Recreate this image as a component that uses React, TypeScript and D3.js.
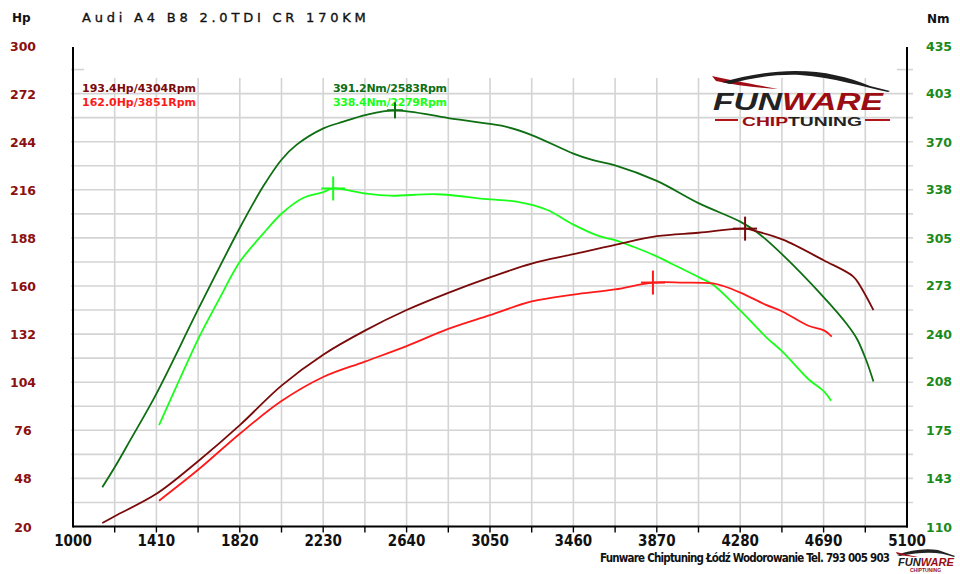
import React, { useEffect, useRef } from 'react';
import * as d3 from 'd3';

// rpm / value pairs
const tunedPowerRpm = [1144, 1205, 1410, 1615, 1820, 2025, 2230, 2435, 2640, 2845, 3050, 3255, 3460, 3665, 3870, 4075, 4304, 4361, 4490, 4690, 4836, 4870, 4935];
const tunedPowerHp = [22, 26, 39, 58, 79, 102, 120, 134, 146, 156, 165, 173, 178.5, 184, 189, 191, 193.4, 191.8, 187, 175, 165.5, 160, 146];

const stockPowerRpm = [1423, 1615, 1820, 2025, 2230, 2435, 2640, 2845, 3050, 3255, 3460, 3665, 3851, 4000, 4145, 4197, 4284, 4407, 4490, 4612, 4694, 4730];
const stockPowerHp = [35, 53, 74, 93, 107, 116, 125, 135, 143, 151, 155, 158, 162, 162, 161.5, 160, 156, 149, 145, 137, 134, 130.5];

const tunedTorqueRpm = [1144, 1205, 1280, 1411, 1620, 1821, 1936, 2026, 2100, 2231, 2329, 2436, 2583, 2845, 3050, 3132, 3255, 3460, 3557, 3665, 3870, 4075, 4280, 4361, 4485, 4690, 4803, 4853, 4899, 4935];
const tunedTorqueNm = [136.5, 150, 168, 200, 258, 312, 340, 358, 368, 379, 383.5, 388, 391.2, 386, 382, 380, 374.5, 362, 357.5, 354, 343.5, 328.5, 316, 309, 294, 265, 247, 237, 222.5, 208];

const stockTorqueRpm = [1423, 1526, 1620, 1720, 1821, 1936, 2026, 2131, 2231, 2279, 2436, 2559, 2789, 3050, 3181, 3329, 3460, 3591, 3665, 3755, 3870, 3951, 4083, 4145, 4280, 4407, 4489, 4612, 4694, 4727];
const stockTorqueNm = [178.5, 210, 238, 264, 289, 308, 321.5, 332, 336, 338.4, 335, 333.5, 334.5, 331, 329.5, 324, 314, 306, 303.5, 299, 292.5, 287, 278, 273.5, 256, 238, 228, 210, 201, 195];

const rpmLabels = [1000, 1410, 1820, 2230, 2640, 3050, 3460, 3870, 4280, 4690, 5100];
const hpLabels = [20, 48, 76, 104, 132, 160, 188, 216, 244, 272, 300];
const nmLabels = [110, 143, 175, 208, 240, 273, 305, 338, 370, 403, 435];

const peakLabels = ['193.4Hp/4304Rpm', '162.0Hp/3851Rpm', '391.2Nm/2583Rpm', '338.4Nm/2279Rpm'];

const DARK_RED = '#7a0a0a';
const RED = '#ff1a1a';
const DARK_GREEN = '#0d6e12';
const GREEN = '#1aff1a';

const App: React.FC = () => {
  const ref = useRef<SVGSVGElement | null>(null);

  useEffect(() => {
    if (!ref.current) return;
    const svg = d3.select(ref.current);
    svg.selectAll('*').remove();

    const left = 73, right = 907, top = 45.5, bottom = 526.5;
    const x = d3.scaleLinear().domain([1000, 5100]).range([left, right]);
    const yHp = d3.scaleLinear().domain([20, 300]).range([bottom, top]);
    const yNm = d3.scaleLinear().domain([110, 435]).range([bottom, top]);

    svg.append('rect').attr('width', 960).attr('height', 574).attr('fill', '#fff');

    // grid
    const grid = svg.append('g').attr('stroke', '#d4d4d4').attr('stroke-width', 1.6);
    const vTicks = d3.range(1205, 5100, 205);
    grid.selectAll('.v').data(vTicks).enter().append('line')
      .attr('x1', (d) => x(d)).attr('x2', (d) => x(d))
      .attr('y1', 78).attr('y2', bottom);
    const hTicks = d3.range(34, 273, 14);
    grid.selectAll('.h').data(hTicks).enter().append('line')
      .attr('x1', left - 2).attr('x2', right + 6)
      .attr('y1', (d) => yHp(d)).attr('y2', (d) => yHp(d));
    // short ticks at 286
    grid.append('line').attr('x1', left - 2).attr('x2', left + 11).attr('y1', yHp(286)).attr('y2', yHp(286));
    grid.append('line').attr('x1', right - 10).attr('x2', right + 6).attr('y1', yHp(286)).attr('y2', yHp(286));

    // axes frame
    const axis = svg.append('g').attr('stroke', '#000').attr('stroke-width', 2);
    axis.append('line').attr('x1', left).attr('x2', left).attr('y1', 47).attr('y2', bottom + 1);
    axis.append('line').attr('x1', right).attr('x2', right).attr('y1', 47).attr('y2', bottom + 1);
    axis.append('line').attr('x1', left).attr('x2', right + 1).attr('y1', bottom).attr('y2', bottom);
    axis.selectAll('.t').data(vTicks).enter().append('line')
      .attr('stroke-width', 1.4)
      .attr('x1', (d) => x(d)).attr('x2', (d) => x(d))
      .attr('y1', bottom).attr('y2', bottom + 6);

    // tick labels
    svg.append('g').selectAll('text').data(rpmLabels).enter().append('text')
      .attr('x', (d) => x(d)).attr('y', 546)
      .attr('text-anchor', 'middle')
      .attr('font-family', '"Liberation Sans Narrow", "DejaVu Sans Condensed", sans-serif')
      .attr('font-weight', 'bold').attr('font-size', 15).attr('fill', '#111')
      .text((d) => d);
    svg.append('g').selectAll('text').data(hpLabels).enter().append('text')
      .attr('x', 23).attr('y', (d) => yHp(d) + 5)
      .attr('text-anchor', 'middle')
      .attr('font-family', 'Tahoma, "DejaVu Sans", sans-serif')
      .attr('font-weight', 'bold').attr('font-size', 12.5).attr('fill', '#8b1010')
      .text((d) => d);
    svg.append('g').selectAll('text').data(nmLabels).enter().append('text')
      .attr('x', 939).attr('y', (d) => yNm(d) + 5)
      .attr('text-anchor', 'middle')
      .attr('font-family', 'Tahoma, "DejaVu Sans", sans-serif')
      .attr('font-weight', 'bold').attr('font-size', 12.5).attr('fill', '#1a8a1a')
      .text((d) => d);

    // headers
    svg.append('text').attr('x', 12).attr('y', 22)
      .attr('font-family', '"DejaVu Sans", sans-serif').attr('font-weight', 'bold')
      .attr('font-size', 12).attr('fill', '#111').text('Hp');
    svg.append('text').attr('x', 927).attr('y', 23)
      .attr('font-family', '"DejaVu Sans", sans-serif').attr('font-weight', 'bold')
      .attr('font-size', 12).attr('fill', '#111').text('Nm');
    svg.append('text').attr('x', 82).attr('y', 22)
      .attr('font-family', '"DejaVu Sans", sans-serif')
      .attr('font-size', 13).attr('letter-spacing', 2.2).attr('fill', '#111')
      .attr('stroke', '#111').attr('stroke-width', 0.35)
      .attr('textLength', 286)
      .text('Audi A4 B8 2.0TDI CR 170KM');

    // peak legend
    const legend = [
      { x: 82, y: 92, c: DARK_RED },
      { x: 82, y: 106, c: RED },
      { x: 333, y: 92, c: DARK_GREEN },
      { x: 333, y: 106, c: GREEN },
    ];
    svg.append('g').selectAll('text').data(legend).enter().append('text')
      .attr('x', (d) => d.x).attr('y', (d) => d.y)
      .attr('font-family', 'Tahoma, "DejaVu Sans", sans-serif')
      .attr('font-weight', 'bold').attr('font-size', 11).attr('fill', (d) => d.c)
      .attr('textLength', 114)
      .text((_, i) => peakLabels[i]);

    // curves
    const series = [
      { rpm: stockTorqueRpm, v: stockTorqueNm, y: yNm, c: GREEN },
      { rpm: tunedTorqueRpm, v: tunedTorqueNm, y: yNm, c: DARK_GREEN },
      { rpm: stockPowerRpm, v: stockPowerHp, y: yHp, c: RED },
      { rpm: tunedPowerRpm, v: tunedPowerHp, y: yHp, c: DARK_RED },
    ];
    series.forEach((s) => {
      const pts = s.rpm.map((r, i) => [r, s.v[i]] as [number, number]);
      const line = d3.line<[number, number]>()
        .x((d) => x(d[0]))
        .y((d) => s.y(d[1]))
        .curve(d3.curveCatmullRom.alpha(0.5));
      svg.append('path').datum(pts)
        .attr('d', line)
        .attr('fill', 'none')
        .attr('stroke', s.c)
        .attr('stroke-width', 1.8);
    });

    // peak crosses
    const peaks = [
      { rpm: 4304, v: 193.4, y: yHp, c: DARK_RED, s: 12 },
      { rpm: 3851, v: 162.0, y: yHp, c: RED, s: 12 },
      { rpm: 2583, v: 391.2, y: yNm, c: DARK_GREEN, s: 8 },
      { rpm: 2279, v: 338.4, y: yNm, c: GREEN, s: 12 },
    ];
    peaks.forEach((p) => {
      const cx = x(p.rpm), cy = p.y(p.v);
      const g = svg.append('g').attr('stroke', p.c).attr('stroke-width', 2);
      g.append('line').attr('x1', cx).attr('x2', cx).attr('y1', cy - p.s).attr('y2', cy + p.s);
      g.append('line').attr('x1', cx - p.s).attr('x2', cx + p.s).attr('y1', cy).attr('y2', cy);
    });

    // logo
    const logo = svg.append('g');
    logo.append('path')
      .attr('d', 'M712,76 C730,80 752,84 778,89 C758,88 735,85 716,81 Z')
      .attr('fill', '#a00d14');
    logo.append('path')
      .attr('d', 'M722,82 C745,76 770,71 795,71 C825,71 848,77 870,86 L890,91 L888,92 C860,86 835,78 800,75 C775,74 750,78 730,84 Z')
      .attr('fill', '#1e1e1e');
    logo.append('text').attr('x', 713).attr('y', 110)
      .attr('font-family', '"Liberation Sans", Arial, sans-serif')
      .attr('font-weight', 'bold').attr('font-style', 'italic').attr('font-size', 24)
      .attr('textLength', 170).attr('lengthAdjust', 'spacingAndGlyphs')
      .call((t) => {
        t.append('tspan').attr('fill', '#222').text('FUN');
        t.append('tspan').attr('fill', '#9b0d12').text('WARE');
      });
    logo.append('line').attr('x1', 715).attr('x2', 738).attr('y1', 120).attr('y2', 120)
      .attr('stroke', '#b0151a').attr('stroke-width', 2);
    logo.append('line').attr('x1', 865).attr('x2', 890).attr('y1', 120).attr('y2', 120)
      .attr('stroke', '#b0151a').attr('stroke-width', 2);
    logo.append('text').attr('x', 742).attr('y', 126)
      .attr('font-family', '"Liberation Sans", Arial, sans-serif')
      .attr('font-weight', 'bold').attr('font-size', 12.5)
      .attr('textLength', 120).attr('lengthAdjust', 'spacingAndGlyphs')
      .call((t) => {
        t.append('tspan').attr('fill', '#9b0d12').text('CHIP');
        t.append('tspan').attr('fill', '#222').text('TUNING');
      });

    // footer
    svg.append('text').attr('x', 890).attr('y', 562)
      .attr('text-anchor', 'end')
      .attr('font-family', '"Liberation Sans Narrow", "DejaVu Sans Condensed", sans-serif')
      .attr('font-weight', 'bold').attr('font-size', 11.5).attr('fill', '#111')
      .attr('textLength', 290)
      .text('Funware Chiptuning Łódź Wodorowanie Tel. 793 005 903');
    const small = svg.append('g');
    small.append('path')
      .attr('d', 'M897,555 C910,550 925,548 938,550 L955,556 L954,557 C940,552 925,551 900,556 Z')
      .attr('fill', '#222');
    small.append('path').attr('d', 'M896,552 C905,554 912,556 918,557 C910,557 902,555 897,554 Z').attr('fill', '#a00d14');
    small.append('text').attr('x', 898).attr('y', 566)
      .attr('font-family', '"Liberation Sans", Arial, sans-serif')
      .attr('font-weight', 'bold').attr('font-style', 'italic').attr('font-size', 10)
      .attr('textLength', 56).attr('lengthAdjust', 'spacingAndGlyphs')
      .call((t) => {
        t.append('tspan').attr('fill', '#222').text('FUN');
        t.append('tspan').attr('fill', '#9b0d12').text('WARE');
      });
    small.append('text').attr('x', 910).attr('y', 572)
      .attr('font-family', '"Liberation Sans", Arial, sans-serif')
      .attr('font-weight', 'bold').attr('font-size', 5).attr('fill', '#9b0d12')
      .text('CHIPTUNING');
  }, []);

  return (
    <svg
      ref={ref}
      width={960}
      height={574}
      style={{ position: 'absolute', left: 0, top: 0, display: 'block' }}
    />
  );
};

export default App;
